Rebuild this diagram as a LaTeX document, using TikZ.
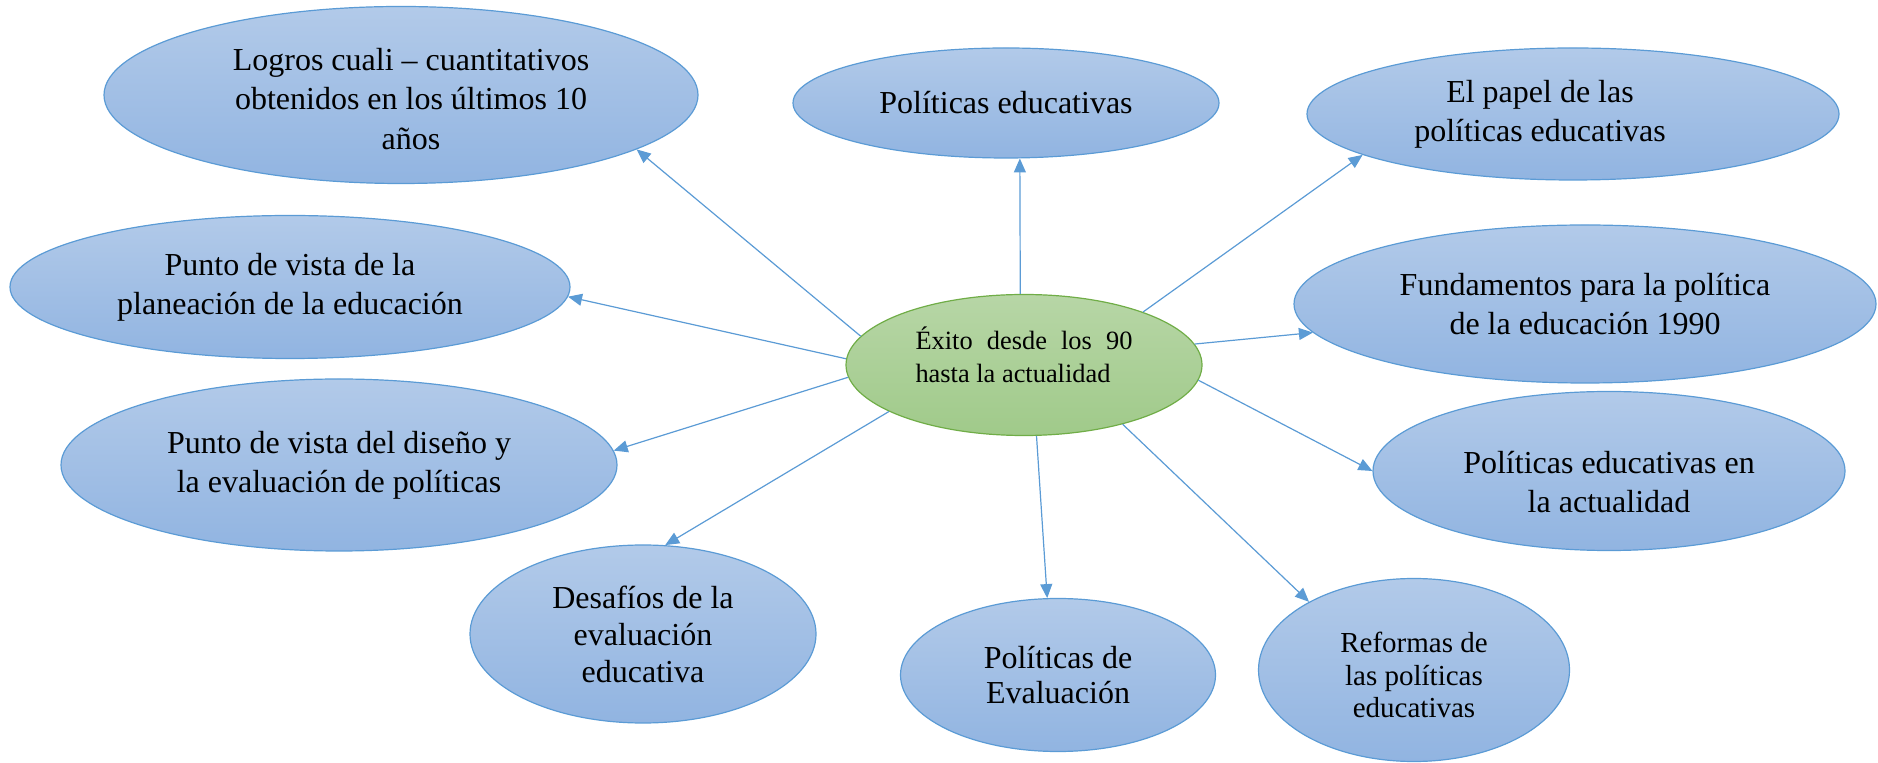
\documentclass[tikz,border=0pt]{standalone}
\usepackage{fontspec}
\setmainfont{Liberation Serif}
\usepackage{calc}
\usetikzlibrary{shapes.geometric,arrows.meta}
\definecolor{bordeazul}{HTML}{5B9BD5}
\definecolor{azularriba}{HTML}{B2CAE9}
\definecolor{azulabajo}{HTML}{91B4E1}
\definecolor{bordeverde}{HTML}{70AD47}
\definecolor{verdearriba}{HTML}{B7D6A6}
\definecolor{verdeabajo}{HTML}{A0CA8A}
\tikzset{
  burbuja/.style={ellipse, draw=bordeazul, line width=0.6pt, top color=azularriba, bottom color=azulabajo, inner sep=0pt},
  centro/.style={ellipse, draw=bordeverde, line width=0.6pt, top color=verdearriba, bottom color=verdeabajo, inner sep=0pt},
  texto/.style={align=center, font=\fontsize{16}{19.6}\selectfont, inner sep=0pt},
  flecha/.style={draw=bordeazul, line width=0.6pt, -{Triangle[length=7pt,width=6pt]}}
}
\begin{document}
\begin{tikzpicture}[x=0.5pt, y=-0.5pt]
    \useasboundingbox (0,0) rectangle (1878,763);

    % burbujas
    \node[burbuja, minimum width=297pt, minimum height=88.5pt] (logros) at (401,95) {};
    \node[burbuja, minimum width=213pt, minimum height=55pt] (pol) at (1006,103) {};
    \node[burbuja, minimum width=266pt, minimum height=66pt] (papel) at (1573,114) {};
    \node[burbuja, minimum width=280pt, minimum height=71.5pt] (plan) at (290,287) {};
    \node[burbuja, minimum width=291pt, minimum height=79pt] (fund) at (1585,304) {};
    \node[burbuja, minimum width=278pt, minimum height=86pt] (dis) at (339,465) {};
    \node[burbuja, minimum width=236pt, minimum height=79.5pt] (act) at (1609,471) {};
    \node[burbuja, minimum width=173pt, minimum height=89pt] (des) at (643,634) {};
    \node[burbuja, minimum width=157.5pt, minimum height=76.5pt] (eva) at (1058,675) {};
    \node[burbuja, minimum width=155.5pt, minimum height=91.5pt] (ref) at (1414,670) {};
    \node[centro, minimum width=178pt, minimum height=70.5pt] (c) at (1024,365) {};

    % textos
    \node[texto] (logrosT) at ([xshift=5pt, yshift=-2pt]logros) {Logros cuali -- cuantitativos\\obtenidos en los últimos 10\\años};
    \node[texto] (polT) at (pol) {Políticas educativas};
    \node[texto] (papelT) at ([xshift=-16.5pt]papel) {El papel de las\\políticas educativas};
    \node[texto] (planT) at (plan) {Punto de vista de la\\planeación de la educación};
    \node[texto] (fundT) at (fund) {Fundamentos para la política\\de la educación 1990};
    \node[texto] (disT) at (dis) {Punto de vista del diseño y\\la evaluación de políticas};
    \node[texto] (actT) at ([yshift=-5.5pt]act) {Políticas educativas en\\la actualidad};
    \node[texto, font=\fontsize{16}{18.5}\selectfont] (desT) at (des) {Desafíos de la\\evaluación\\educativa};
    \node[texto, font=\fontsize{16}{17.4}\selectfont] (evaT) at (eva) {Políticas de\\Evaluación};
    \node[texto, font=\fontsize{14.5}{16.2}\selectfont] (refT) at ([yshift=-2.5pt]ref) {Reformas de\\las políticas\\educativas};
    \node[texto, align=left, font=\fontsize{13.2}{16.8}\selectfont] (cT) at ([yshift=5pt]c)
        {\makebox[\widthof{hasta la actualidad}+11pt][s]{Éxito desde los 90}\\hasta la actualidad};

    % flechas
    \foreach \a/\b in {170/logros.-13, 93/pol.-76, 24/papel.-169, 178/plan.-2, 7/fund.-174,
                       184/dis.3, -5/act.180, 199/des.76, -80/eva.98, -31/ref.147}
        \draw[flecha] (c.\a) -- (\b);

\end{tikzpicture}
\end{document}
